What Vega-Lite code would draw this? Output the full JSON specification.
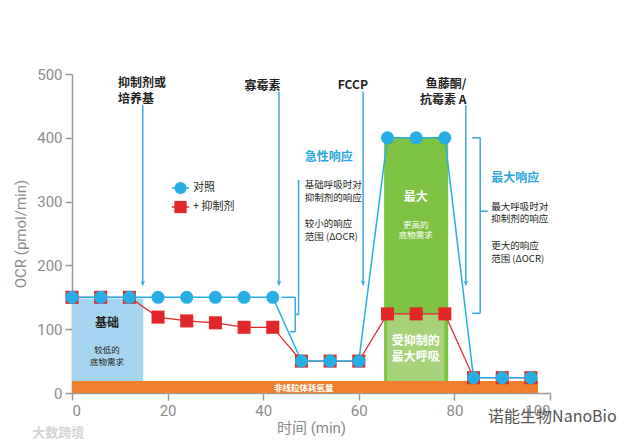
{
  "$schema": "https://vega.github.io/schema/vega-lite/v6.json",
  "width": 478,
  "height": 319,
  "autosize": {"type": "none"},
  "padding": {"left": 72, "top": 74, "right": 82, "bottom": 52},
  "config": {
    "view": {"stroke": null},
    "axis": {
      "grid": false,
      "domainColor": "#9a9a9a",
      "tickColor": "#9a9a9a",
      "domainWidth": 1.5,
      "tickWidth": 1.5,
      "tickSize": 7,
      "labelColor": "#8c8c8c",
      "labelFont": "Roboto",
      "labelFontSize": 15,
      "labelPadding": 3,
      "titleColor": "#8c8c8c",
      "titleFont": "Roboto, Noto Sans CJK SC",
      "titleFontSize": 15,
      "titleFontWeight": "normal"
    },
    "text": {"font": "Noto Sans CJK SC"}
  },
  "datasets": {
    "ocr": [
      {"time": 0, "ocr": 150, "series": "+ 抑制剂"},
      {"time": 6, "ocr": 150, "series": "+ 抑制剂"},
      {"time": 12, "ocr": 150, "series": "+ 抑制剂"},
      {"time": 18, "ocr": 119, "series": "+ 抑制剂"},
      {"time": 24, "ocr": 113, "series": "+ 抑制剂"},
      {"time": 30, "ocr": 110, "series": "+ 抑制剂"},
      {"time": 36, "ocr": 103, "series": "+ 抑制剂"},
      {"time": 42, "ocr": 103, "series": "+ 抑制剂"},
      {"time": 48, "ocr": 50, "series": "+ 抑制剂"},
      {"time": 54, "ocr": 50, "series": "+ 抑制剂"},
      {"time": 60, "ocr": 50, "series": "+ 抑制剂"},
      {"time": 66, "ocr": 124, "series": "+ 抑制剂"},
      {"time": 72, "ocr": 124, "series": "+ 抑制剂"},
      {"time": 78, "ocr": 124, "series": "+ 抑制剂"},
      {"time": 84, "ocr": 24, "series": "+ 抑制剂"},
      {"time": 90, "ocr": 24, "series": "+ 抑制剂"},
      {"time": 96, "ocr": 24, "series": "+ 抑制剂"},
      {"time": 0, "ocr": 150, "series": "对照"},
      {"time": 6, "ocr": 150, "series": "对照"},
      {"time": 12, "ocr": 150, "series": "对照"},
      {"time": 18, "ocr": 150, "series": "对照"},
      {"time": 24, "ocr": 150, "series": "对照"},
      {"time": 30, "ocr": 150, "series": "对照"},
      {"time": 36, "ocr": 150, "series": "对照"},
      {"time": 42, "ocr": 150, "series": "对照"},
      {"time": 48, "ocr": 50, "series": "对照"},
      {"time": 54, "ocr": 50, "series": "对照"},
      {"time": 60, "ocr": 50, "series": "对照"},
      {"time": 66, "ocr": 400, "series": "对照"},
      {"time": 72, "ocr": 400, "series": "对照"},
      {"time": 78, "ocr": 400, "series": "对照"},
      {"time": 84, "ocr": 24, "series": "对照"},
      {"time": 90, "ocr": 24, "series": "对照"},
      {"time": 96, "ocr": 24, "series": "对照"}
    ],
    "legendKey": [
      {"series": "+ 抑制剂", "ocr": 291.5, "from": 20.9, "to": 24.5, "at": 22.7, "labelAt": 25.3},
      {"series": "对照", "ocr": 321.3, "from": 20.9, "to": 24.5, "at": 22.7, "labelAt": 25.3}
    ],
    "segments": [
      {"t0": 43.9, "t1": 46.7, "v0": 150, "v1": 150},
      {"t0": 46.7, "t1": 46.7, "v0": 150, "v1": 96},
      {"t0": 45.6, "t1": 46.7, "v0": 96, "v1": 96},
      {"t0": 46.7, "t1": 47.4, "v0": 123, "v1": 123},
      {"t0": 47.4, "t1": 47.4, "v0": 123, "v1": 334},
      {"t0": 83.7, "t1": 85.4, "v0": 400, "v1": 400},
      {"t0": 85.4, "t1": 85.4, "v0": 400, "v1": 125},
      {"t0": 83.7, "t1": 85.4, "v0": 125, "v1": 125},
      {"t0": 85.4, "t1": 87.0, "v0": 285, "v1": 285}
    ],
    "injections": [
      {"time": 14.8, "top": 451, "tip": 171},
      {"time": 43.3, "top": 472, "tip": 171},
      {"time": 60.9, "top": 472, "tip": 171},
      {"time": 82.4, "top": 451, "tip": 171}
    ]
  },
  "layer": [
    {
      "data": {"values": [{"t0": 0, "t1": 97.5, "v0": 0, "v1": 19}]},
      "mark": {"type": "rect", "color": "#EF7F2C"},
      "encoding": {
        "x": {"field": "t0", "type": "quantitative", "scale": {"domain": [0, 100], "nice": false},
              "axis": {"values": [0, 20, 40, 60, 80, 100], "title": "时间 (min)", "titlePadding": 2}},
        "x2": {"field": "t1"},
        "y": {"field": "v0", "type": "quantitative", "scale": {"domain": [0, 500], "nice": false},
              "axis": {"values": [0, 100, 200, 300, 400, 500], "title": "OCR (pmol/min)", "titlePadding": 8}},
        "y2": {"field": "v1"}
      }
    },
    {
      "data": {"values": [{"t0": 0, "t1": 14.9, "v0": 19, "v1": 148}]},
      "mark": {"type": "rect", "color": "#A5D5F1"},
      "encoding": {
        "x": {"field": "t0", "type": "quantitative", "scale": {"domain": [0, 100], "nice": false}},
        "x2": {"field": "t1"},
        "y": {"field": "v0", "type": "quantitative", "scale": {"domain": [0, 500], "nice": false}},
        "y2": {"field": "v1"}
      }
    },
    {
      "data": {"values": [{"t0": 65.3, "t1": 78.7, "v0": 19, "v1": 400}]},
      "mark": {"type": "rect", "color": "#7DC242"},
      "encoding": {
        "x": {"field": "t0", "type": "quantitative", "scale": {"domain": [0, 100], "nice": false}},
        "x2": {"field": "t1"},
        "y": {"field": "v0", "type": "quantitative", "scale": {"domain": [0, 500], "nice": false}},
        "y2": {"field": "v1"}
      }
    },
    {
      "data": {"values": [{"t0": 65.9, "t1": 77.9, "v0": 19, "v1": 124}]},
      "mark": {"type": "rect", "color": "#A6D27A"},
      "encoding": {
        "x": {"field": "t0", "type": "quantitative", "scale": {"domain": [0, 100], "nice": false}},
        "x2": {"field": "t1"},
        "y": {"field": "v0", "type": "quantitative", "scale": {"domain": [0, 500], "nice": false}},
        "y2": {"field": "v1"}
      }
    },
    {
      "data": {"name": "injections"},
      "mark": {"type": "rule", "color": "#3AA8DD", "strokeWidth": 1.5},
      "encoding": {
        "x": {"field": "time", "type": "quantitative", "scale": {"domain": [0, 100], "nice": false}},
        "y": {"field": "top", "type": "quantitative", "scale": {"domain": [0, 500], "nice": false}},
        "y2": {"field": "tip"}
      }
    },
    {
      "data": {"name": "injections"},
      "mark": {"type": "point", "shape": "M-1,-1.4L0,1L1,-1.4L0,-0.7Z", "filled": true, "opacity": 1, "size": 22, "color": "#3AA8DD"},
      "encoding": {
        "x": {"field": "time", "type": "quantitative", "scale": {"domain": [0, 100], "nice": false}},
        "y": {"field": "tip", "type": "quantitative", "scale": {"domain": [0, 500], "nice": false}}
      }
    },
    {
      "data": {"name": "segments"},
      "mark": {"type": "rule", "color": "#3AA8DD", "strokeWidth": 1.5},
      "encoding": {
        "x": {"field": "t0", "type": "quantitative", "scale": {"domain": [0, 100], "nice": false}},
        "x2": {"field": "t1"},
        "y": {"field": "v0", "type": "quantitative", "scale": {"domain": [0, 500], "nice": false}},
        "y2": {"field": "v1"}
      }
    },
    {
      "data": {"name": "ocr"},
      "transform": [{"filter": "datum.series == '+ 抑制剂'"}],
      "mark": {"type": "line", "color": "#E3262A", "strokeWidth": 1.2},
      "encoding": {
        "x": {"field": "time", "type": "quantitative", "scale": {"domain": [0, 100], "nice": false}},
        "y": {"field": "ocr", "type": "quantitative", "scale": {"domain": [0, 500], "nice": false}}
      }
    },
    {
      "data": {"name": "ocr"},
      "transform": [{"filter": "datum.series == '对照'"}],
      "mark": {"type": "line", "color": "#27AEE4", "strokeWidth": 1.5},
      "encoding": {
        "x": {"field": "time", "type": "quantitative", "scale": {"domain": [0, 100], "nice": false}},
        "y": {"field": "ocr", "type": "quantitative", "scale": {"domain": [0, 500], "nice": false}}
      }
    },
    {
      "data": {"name": "ocr"},
      "mark": {"type": "point", "filled": true, "opacity": 1, "size": 170},
      "encoding": {
        "x": {"field": "time", "type": "quantitative", "scale": {"domain": [0, 100], "nice": false}},
        "y": {"field": "ocr", "type": "quantitative", "scale": {"domain": [0, 500], "nice": false}},
        "color": {
          "field": "series", "type": "nominal",
          "scale": {"domain": ["对照", "+ 抑制剂"], "range": ["#27AEE4", "#E3262A"]},
          "legend": null
        },
        "shape": {
          "field": "series", "type": "nominal",
          "scale": {"domain": ["对照", "+ 抑制剂"], "range": ["circle", "square"]},
          "legend": null
        }
      }
    },
    {
      "data": {"name": "legendKey"},
      "mark": {"type": "rule", "strokeWidth": 1.5},
      "encoding": {
        "x": {"field": "from", "type": "quantitative", "scale": {"domain": [0, 100], "nice": false}},
        "x2": {"field": "to"},
        "y": {"field": "ocr", "type": "quantitative", "scale": {"domain": [0, 500], "nice": false}},
        "color": {"field": "series", "type": "nominal", "scale": {"domain": ["对照", "+ 抑制剂"], "range": ["#27AEE4", "#E3262A"]}, "legend": null}
      }
    },
    {
      "data": {"name": "legendKey"},
      "mark": {"type": "point", "filled": true, "opacity": 1, "size": 150},
      "encoding": {
        "x": {"field": "at", "type": "quantitative", "scale": {"domain": [0, 100], "nice": false}},
        "y": {"field": "ocr", "type": "quantitative", "scale": {"domain": [0, 500], "nice": false}},
        "color": {"field": "series", "type": "nominal", "scale": {"domain": ["对照", "+ 抑制剂"], "range": ["#27AEE4", "#E3262A"]}, "legend": null},
        "shape": {"field": "series", "type": "nominal", "scale": {"domain": ["对照", "+ 抑制剂"], "range": ["circle", "square"]}, "legend": null}
      }
    },
    {
      "data": {"name": "legendKey"},
      "mark": {"type": "text", "align": "left", "baseline": "middle", "fontSize": 11, "color": "#231F20"},
      "encoding": {
        "x": {"field": "labelAt", "type": "quantitative", "scale": {"domain": [0, 100], "nice": false}},
        "y": {"field": "ocr", "type": "quantitative", "scale": {"domain": [0, 500], "nice": false}},
        "text": {"field": "series"}
      }
    },
    {
      "data": {"values": [
        {"time": 9.6, "ocr": 486, "label": "抑制剂或"},
        {"time": 9.6, "ocr": 461, "label": "培养基"}
      ]},
      "mark": {"type": "text", "align": "left", "baseline": "middle", "fontSize": 12, "fontWeight": "bold", "color": "#231F20"},
      "encoding": {
        "x": {"field": "time", "type": "quantitative", "scale": {"domain": [0, 100], "nice": false}},
        "y": {"field": "ocr", "type": "quantitative", "scale": {"domain": [0, 500], "nice": false}},
        "text": {"field": "label"}
      }
    },
    {
      "data": {"values": [
        {"time": 43.6, "ocr": 481, "label": "寡霉素"},
        {"time": 61.9, "ocr": 483, "label": "FCCP"},
        {"time": 82.5, "ocr": 485, "label": "鱼藤酮/"},
        {"time": 82.5, "ocr": 460, "label": "抗霉素 A"}
      ]},
      "mark": {"type": "text", "align": "right", "baseline": "middle", "fontSize": 12, "fontWeight": "bold", "color": "#231F20"},
      "encoding": {
        "x": {"field": "time", "type": "quantitative", "scale": {"domain": [0, 100], "nice": false}},
        "y": {"field": "ocr", "type": "quantitative", "scale": {"domain": [0, 500], "nice": false}},
        "text": {"field": "label"}
      }
    },
    {
      "data": {"values": [
        {"time": 48.7, "ocr": 370, "label": "急性响应"},
        {"time": 87.7, "ocr": 337, "label": "最大响应"}
      ]},
      "mark": {"type": "text", "align": "left", "baseline": "middle", "fontSize": 12, "fontWeight": "bold", "color": "#2AA7DF"},
      "encoding": {
        "x": {"field": "time", "type": "quantitative", "scale": {"domain": [0, 100], "nice": false}},
        "y": {"field": "ocr", "type": "quantitative", "scale": {"domain": [0, 500], "nice": false}},
        "text": {"field": "label"}
      }
    },
    {
      "data": {"values": [
        {"time": 48.7, "ocr": 326, "label": "基础呼吸时对"},
        {"time": 48.7, "ocr": 306, "label": "抑制剂的响应"},
        {"time": 48.7, "ocr": 265, "label": "较小的响应"},
        {"time": 48.7, "ocr": 245, "label": "范围 (ΔOCR)"},
        {"time": 87.7, "ocr": 292, "label": "最大呼吸时对"},
        {"time": 87.7, "ocr": 272, "label": "抑制剂的响应"},
        {"time": 87.7, "ocr": 230, "label": "更大的响应"},
        {"time": 87.7, "ocr": 210, "label": "范围 (ΔOCR)"}
      ]},
      "mark": {"type": "text", "align": "left", "baseline": "middle", "fontSize": 9.5, "color": "#231F20"},
      "encoding": {
        "x": {"field": "time", "type": "quantitative", "scale": {"domain": [0, 100], "nice": false}},
        "y": {"field": "ocr", "type": "quantitative", "scale": {"domain": [0, 500], "nice": false}},
        "text": {"field": "label"}
      }
    },
    {
      "data": {"values": [
        {"time": 71.9, "ocr": 307, "label": "最大"},
        {"time": 71.9, "ocr": 82, "label": "受抑制的"},
        {"time": 71.9, "ocr": 56, "label": "最大呼吸"}
      ]},
      "mark": {"type": "text", "align": "center", "baseline": "middle", "fontSize": 12, "fontWeight": "bold", "color": "#ffffff"},
      "encoding": {
        "x": {"field": "time", "type": "quantitative", "scale": {"domain": [0, 100], "nice": false}},
        "y": {"field": "ocr", "type": "quantitative", "scale": {"domain": [0, 500], "nice": false}},
        "text": {"field": "label"}
      }
    },
    {
      "data": {"values": [
        {"time": 71.9, "ocr": 264, "label": "更高的"},
        {"time": 71.9, "ocr": 247, "label": "底物需求"}
      ]},
      "mark": {"type": "text", "align": "center", "baseline": "middle", "fontSize": 8.5, "color": "#ffffff"},
      "encoding": {
        "x": {"field": "time", "type": "quantitative", "scale": {"domain": [0, 100], "nice": false}},
        "y": {"field": "ocr", "type": "quantitative", "scale": {"domain": [0, 500], "nice": false}},
        "text": {"field": "label"}
      }
    },
    {
      "data": {"values": [
        {"time": 7.3, "ocr": 110, "label": "基础"}
      ]},
      "mark": {"type": "text", "align": "center", "baseline": "middle", "fontSize": 12, "fontWeight": "bold", "color": "#231F20"},
      "encoding": {
        "x": {"field": "time", "type": "quantitative", "scale": {"domain": [0, 100], "nice": false}},
        "y": {"field": "ocr", "type": "quantitative", "scale": {"domain": [0, 500], "nice": false}},
        "text": {"field": "label"}
      }
    },
    {
      "data": {"values": [
        {"time": 7.3, "ocr": 67, "label": "较低的"},
        {"time": 7.3, "ocr": 49, "label": "底物需求"}
      ]},
      "mark": {"type": "text", "align": "center", "baseline": "middle", "fontSize": 8.5, "color": "#231F20"},
      "encoding": {
        "x": {"field": "time", "type": "quantitative", "scale": {"domain": [0, 100], "nice": false}},
        "y": {"field": "ocr", "type": "quantitative", "scale": {"domain": [0, 500], "nice": false}},
        "text": {"field": "label"}
      }
    },
    {
      "data": {"values": [
        {"time": 48.5, "ocr": 8.5, "label": "非线粒体耗氧量"}
      ]},
      "mark": {"type": "text", "align": "center", "baseline": "middle", "fontSize": 8.5, "fontWeight": "bold", "color": "#ffffff"},
      "encoding": {
        "x": {"field": "time", "type": "quantitative", "scale": {"domain": [0, 100], "nice": false}},
        "y": {"field": "ocr", "type": "quantitative", "scale": {"domain": [0, 500], "nice": false}},
        "text": {"field": "label"}
      }
    },
    {
      "data": {"values": [
        {"time": -2.9, "ocr": -63, "label": "大数跨境"}
      ]},
      "mark": {"type": "text", "align": "center", "baseline": "middle", "fontSize": 13, "fontWeight": "bold", "color": "#d4d4d4"},
      "encoding": {
        "x": {"field": "time", "type": "quantitative", "scale": {"domain": [0, 100], "nice": false}},
        "y": {"field": "ocr", "type": "quantitative", "scale": {"domain": [0, 500], "nice": false}},
        "text": {"field": "label"}
      }
    },
    {
      "data": {"values": [
        {"time": 100.5, "ocr": -38, "label": "诺能生物NanoBio"}
      ]},
      "mark": {"type": "text", "align": "center", "baseline": "middle", "fontSize": 16, "color": "#555555"},
      "encoding": {
        "x": {"field": "time", "type": "quantitative", "scale": {"domain": [0, 100], "nice": false}},
        "y": {"field": "ocr", "type": "quantitative", "scale": {"domain": [0, 500], "nice": false}},
        "text": {"field": "label"}
      }
    }
  ]
}
